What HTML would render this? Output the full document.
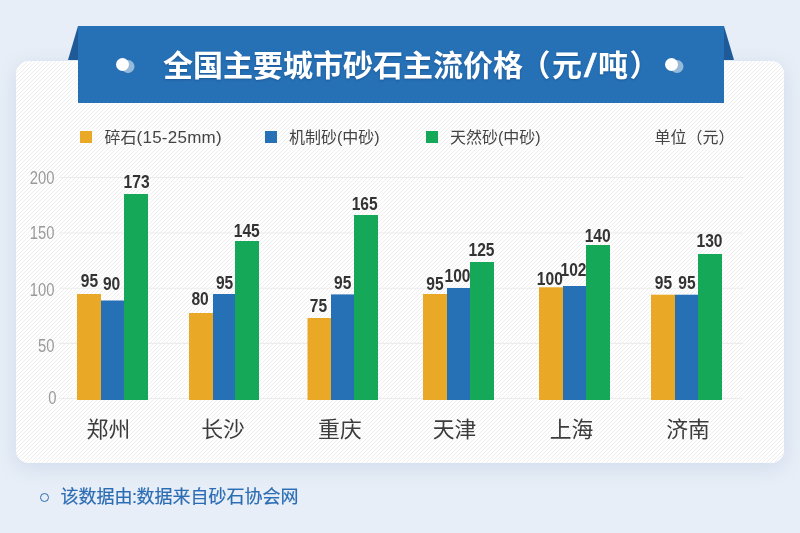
<!DOCTYPE html>
<html lang="zh-CN">
<head>
<meta charset="utf-8">
<title>全国主要城市砂石主流价格</title>
<style>
html,body{margin:0;padding:0}
body{width:800px;height:533px;overflow:hidden;position:relative;background:#e7eef7;font-family:"Liberation Sans","Noto Sans CJK SC",sans-serif}
.card{position:absolute;left:16px;top:60.5px;width:768px;height:402px;border-radius:12.5px;background-color:#fff;
overflow:visible;
box-shadow:0 5px 20px rgba(135,158,200,.23)}
.fold{position:absolute;top:26px;width:0;height:0}
.fold.l{left:68px;border-left:10px solid transparent;border-bottom:34.5px solid #1e5a97}
.fold.r{left:724px;border-right:10.5px solid transparent;border-bottom:34.5px solid #1e5a97}
.banner{position:absolute;left:78px;top:26px;width:646px;height:76.5px;background:#2670b5}
.banner h1{position:absolute;left:85.1px;top:1.5px;margin:0;line-height:76px;font-size:30px;font-weight:bold;color:#fff;white-space:nowrap;letter-spacing:0;text-shadow:0 1px 2px rgba(20,60,110,.45)}
.pl{margin-left:-2.5px;margin-right:1.3px} .pr{margin-left:1.6px} .sl{display:inline-block;width:14.5px;margin-left:1.5px;text-align:center;font-weight:normal;transform:translateY(2px) scale(1.5,1.12);transform-origin:50% 72%;text-shadow:none;-webkit-text-stroke:.5px #fff}
.dot{position:absolute;top:32.3px;width:13px;height:13px;border-radius:50%;background:#fff;box-shadow:5.5px 2px 0 rgba(255,255,255,.52)}
.dot.l{left:38.3px} .dot.r{left:587.2px}
.legend span{position:absolute;top:126.6px;font-size:16px;line-height:22px;color:#444;white-space:nowrap}
.legend b{font-weight:normal;font-size:17px;letter-spacing:.25px}
.legend i{position:absolute;top:131px;width:12px;height:12px}
svg{position:absolute;left:0;top:0}
.ax{font-size:18.5px;fill:#9a9a9a;font-family:"Liberation Sans",sans-serif}
.val{font-size:17.8px;font-weight:bold;fill:#333;font-family:"Liberation Sans",sans-serif}
.city{font-size:21.8px;fill:#3c3c3c;font-family:"Liberation Sans","Noto Sans CJK SC",sans-serif}
.foot{position:absolute;left:60.5px;top:484.7px;font-size:18px;line-height:24px;color:#2b6cb3;white-space:nowrap;-webkit-text-stroke:.2px #2b6cb3}
.ring{position:absolute;left:40px;top:493px;width:7px;height:7px;border:1.5px solid #2b6cb3;border-radius:50%}
</style>
</head>
<body>
<div class="card"><svg width="768" height="402" viewBox="0 0 768 402"><defs><pattern id="st" width="4" height="4" patternUnits="userSpaceOnUse"><path d="M-1 5L5 -1M-1 1L1 -1M3 5L5 3" stroke="#ececec" stroke-width="0.9" fill="none"/></pattern></defs><rect width="768" height="402" rx="12.5" fill="url(#st)"/></svg></div>
<div class="fold l"></div><div class="fold r"></div>
<div class="banner"><div class="dot l"></div><h1>全国主要城市砂石主流价格<span class="pl">（</span>元<span class="sl">/</span>吨<span class="pr">）</span></h1><div class="dot r"></div></div>
<div class="legend">
<i style="left:80px;background:#e9a825"></i><span style="left:104.5px">碎石<b>(15-25mm)</b></span>
<i style="left:265px;background:#2670b5"></i><span style="left:289px">机制砂(中砂)</span>
<i style="left:426px;background:#15a858"></i><span style="left:450px">天然砂(中砂)</span>
<span style="left:654.4px;top:127.3px">单位（元）</span>
</div>
<svg width="800" height="533" viewBox="0 0 800 533">
<line x1="59" x2="743" y1="177.5" y2="177.5" stroke="#ececec" stroke-width="1.1"/>
<line x1="59" x2="743" y1="233" y2="233" stroke="#ececec" stroke-width="1.1"/>
<line x1="59" x2="743" y1="288.2" y2="288.2" stroke="#ececec" stroke-width="1.1"/>
<line x1="59" x2="743" y1="343.4" y2="343.4" stroke="#ececec" stroke-width="1.1"/>
<line x1="59" x2="743" y1="398.5" y2="398.5" stroke="#ececec" stroke-width="1.1"/>
<text class="ax" transform="translate(54.4,183.6) scale(0.80,1)" text-anchor="end">200</text>
<text class="ax" transform="translate(54.4,238.8) scale(0.80,1)" text-anchor="end">150</text>
<text class="ax" transform="translate(54.4,295.5) scale(0.80,1)" text-anchor="end">100</text>
<text class="ax" transform="translate(54.4,351.8) scale(0.80,1)" text-anchor="end">50</text>
<text class="ax" transform="translate(56.4,403.8) scale(0.80,1)" text-anchor="end">0</text>
<rect x="77" y="294" width="24" height="106" fill="#e9a825"/>
<rect x="101" y="300.5" width="23" height="99.5" fill="#2670b5"/>
<rect x="124" y="194" width="24" height="206" fill="#15a858"/>
<text class="val" transform="translate(89.50,286.80) scale(0.875,1)" text-anchor="middle">95</text>
<text class="val" transform="translate(111.55,289.80) scale(0.875,1)" text-anchor="middle">90</text>
<text class="val" transform="translate(136.60,187.80) scale(0.875,1)" text-anchor="middle">173</text>
<text class="city" x="108.4" y="437.1" text-anchor="middle">郑州</text>
<rect x="189" y="313" width="24" height="87" fill="#e9a825"/>
<rect x="213" y="294" width="22" height="106" fill="#2670b5"/>
<rect x="235" y="241" width="24" height="159" fill="#15a858"/>
<text class="val" transform="translate(200.05,304.70) scale(0.875,1)" text-anchor="middle">80</text>
<text class="val" transform="translate(224.60,288.80) scale(0.875,1)" text-anchor="middle">95</text>
<text class="val" transform="translate(246.80,237.20) scale(0.875,1)" text-anchor="middle">145</text>
<text class="city" x="223" y="437.1" text-anchor="middle">长沙</text>
<rect x="307.5" y="318" width="23.5" height="82" fill="#e9a825"/>
<rect x="331" y="294.4" width="23" height="105.60000000000002" fill="#2670b5"/>
<rect x="354" y="215" width="24" height="185" fill="#15a858"/>
<text class="val" transform="translate(318.45,311.60) scale(0.875,1)" text-anchor="middle">75</text>
<text class="val" transform="translate(342.65,289.30) scale(0.875,1)" text-anchor="middle">95</text>
<text class="val" transform="translate(364.65,209.60) scale(0.875,1)" text-anchor="middle">165</text>
<text class="city" x="339.9" y="437.1" text-anchor="middle">重庆</text>
<rect x="423" y="294" width="24" height="106" fill="#e9a825"/>
<rect x="447" y="288" width="23" height="112" fill="#2670b5"/>
<rect x="470" y="262" width="24" height="138" fill="#15a858"/>
<text class="val" transform="translate(435.00,290.00) scale(0.875,1)" text-anchor="middle">95</text>
<text class="val" transform="translate(457.50,282.30) scale(0.875,1)" text-anchor="middle">100</text>
<text class="val" transform="translate(481.50,256.20) scale(0.875,1)" text-anchor="middle">125</text>
<text class="city" x="454.6" y="437.1" text-anchor="middle">天津</text>
<rect x="539" y="287.3" width="24" height="112.69999999999999" fill="#e9a825"/>
<rect x="563" y="286" width="23" height="114" fill="#2670b5"/>
<rect x="586" y="245" width="24" height="155" fill="#15a858"/>
<text class="val" transform="translate(549.85,284.50) scale(0.875,1)" text-anchor="middle">100</text>
<text class="val" transform="translate(573.50,276.40) scale(0.875,1)" text-anchor="middle">102</text>
<text class="val" transform="translate(597.70,242.10) scale(0.875,1)" text-anchor="middle">140</text>
<text class="city" x="571.5" y="437.1" text-anchor="middle">上海</text>
<rect x="651" y="294.7" width="24" height="105.30000000000001" fill="#e9a825"/>
<rect x="675" y="294.7" width="23" height="105.30000000000001" fill="#2670b5"/>
<rect x="698" y="254" width="24" height="146" fill="#15a858"/>
<text class="val" transform="translate(663.45,289.00) scale(0.875,1)" text-anchor="middle">95</text>
<text class="val" transform="translate(686.90,289.00) scale(0.875,1)" text-anchor="middle">95</text>
<text class="val" transform="translate(709.50,247.10) scale(0.875,1)" text-anchor="middle">130</text>
<text class="city" x="688" y="437.1" text-anchor="middle">济南</text>
</svg>
<div class="ring"></div>
<div class="foot">该数据由<span style="margin:0 -.6px 0 -.4px">:</span>数据来自砂石协会网</div>
</body>
</html>
